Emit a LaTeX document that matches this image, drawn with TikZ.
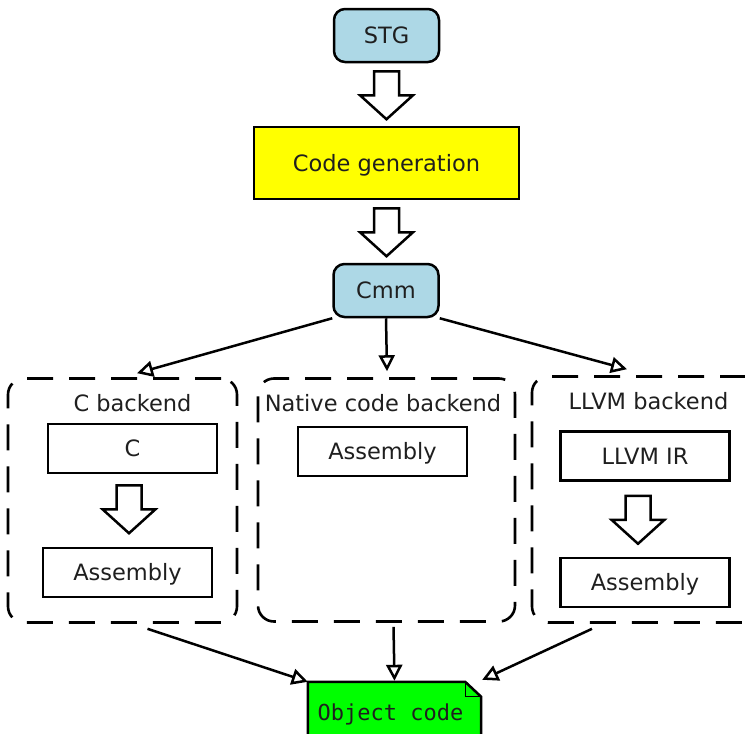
\documentclass[tikz,border=0pt]{standalone}
\usepackage{fontspec}
\setmainfont{DejaVu Sans}
\setmonofont{DejaVu Sans Mono}
\usetikzlibrary{arrows.meta,calc}
\definecolor{boxblue}{HTML}{ADD8E6}
\definecolor{boxyellow}{HTML}{FFFF00}
\definecolor{boxgreen}{HTML}{00FF00}
\begin{document}
\begin{tikzpicture}[x=1pt,y=-1pt,
  every node/.style={font=\fontsize{22.5}{26}\selectfont, text height=16.4pt, text depth=0pt, inner sep=0pt, text=black!88},
  termbox/.style={draw=black, line width=2.5pt, rounded corners=11pt, fill=boxblue, minimum width=105pt, minimum height=53pt},
  genbox/.style={draw=black, line width=2.5pt, fill=boxyellow, minimum width=265pt, minimum height=72pt},
  procbox/.style={draw=black, line width=2.5pt, fill=white, minimum width=169pt, minimum height=49pt},
  backbox/.style={draw=black, line width=2.6pt, rounded corners=16pt, dash pattern=on 26pt off 16pt},
  flow/.style={line width=2.5pt, -{Triangle[open, length=16pt, width=16pt]}},
  bigarrow/.pic={\draw[line width=2.5pt, fill=white, line join=miter] (-12.5,0) -- (12.5,0) -- (12.5,24) -- (26.5,24) -- (0,48) -- (-26.5,24) -- (-12.5,24) -- cycle;}
]
\useasboundingbox (0,0) rectangle (745,734);

% main chain
\node[termbox] (stg) at (386.5,35.5) {STG};
\node[genbox] (gen) at (386.5,163) {Code generation};
\node[termbox] (cmm) at (386,290.5) {Cmm};
\pic at ($(stg.south)+(0,8)$) {bigarrow};
\pic at ($(gen.south)+(0,8)$) {bigarrow};

% backends
\node[backbox, minimum width=229pt, minimum height=244pt] (cback) at (122.5,500.5) {};
\node[backbox, minimum width=257pt, minimum height=243pt] (nback) at (386.5,500) {};
\node[backbox, minimum width=230pt, minimum height=246pt] (lback) at (647,499.5) {};

\node (clab) at (132.5,403) {C backend};
\node (nlab) at (383,403) {Native code backend};
\node (llab) at (648.5,401) {LLVM backend};

\node[procbox] (c) at (132.5,448.5) {C};
\node[procbox] (casm) at (127.5,572.5) {Assembly};
\pic at ($(c.south)+(-3.5,11)$) {bigarrow};

\node[procbox] (nasm) at (382.5,451.5) {Assembly};

\node[procbox] (llir) at (645,456) {LLVM IR};
\node[procbox] (lasm) at (645,582.5) {Assembly};
\pic at ($(llir.south)+(-7,14)$) {bigarrow};

% object code note
\node[minimum width=173pt, minimum height=60pt] (obj) at (394.5,712) {};
\draw[line width=2.5pt, fill=boxgreen]
  (obj.south west) -- (obj.north west) -- ($(obj.north east)+(-16,0)$)
  -- ($(obj.north east)+(0,15)$) -- (obj.south east);
\draw[line width=1.2pt] ($(obj.north east)+(-16,0)$) -- ($(obj.north east)+(-16,15)$) -- ($(obj.north east)+(0,15)$);
\node[font=\ttfamily\fontsize{22}{26}\selectfont] (objtxt) at ($(obj.center)+(-4,0)$) {Object code};

% connectors
\draw[flow] (cmm.south west) -- ($(cback.north)+(14.5,-4)$);
\draw[flow] (cmm.south) -- ($(nback.north)+(0.5,-6)$);
\draw[flow] (cmm.south east) -- ($(lback.north)+(-20,-6)$);
\draw[flow] ($(cback.south)+(25,5)$) -- (obj.north west);
\draw[flow] ($(nback.south)+(7,4)$) -- ($(obj.north)+(0,-1)$);
\draw[flow] ($(lback.south)+(-55,5)$) -- ($(obj.north east)+(1,-2)$);
\end{tikzpicture}
\end{document}
